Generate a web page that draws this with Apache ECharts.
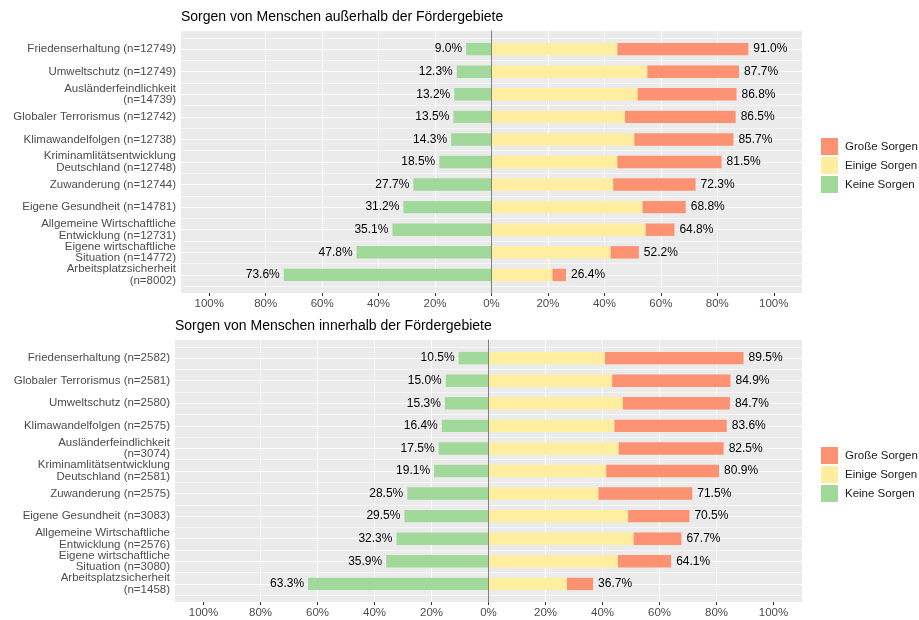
<!DOCTYPE html>
<html>
<head>
<meta charset="utf-8">
<script src="https://cdn.jsdelivr.net/npm/echarts@6/dist/echarts.min.js"></script>
<style>
  html, body { margin: 0; padding: 0; background: #fff; }
  #chart { width: 919px; height: 620px; }
</style>
</head>
<body>
<div id="chart"></div>
<script>
// top panel: people outside the funding areas (top to bottom)
const catsOut = [
  'Friedenserhaltung (n=12749)',
  'Umweltschutz (n=12749)',
  'Ausländerfeindlichkeit\n(n=14739)',
  'Globaler Terrorismus (n=12742)',
  'Klimawandelfolgen (n=12738)',
  'Kriminamlitätsentwicklung\nDeutschland (n=12748)',
  'Zuwanderung (n=12744)',
  'Eigene Gesundheit (n=14781)',
  'Allgemeine Wirtschaftliche\nEntwicklung (n=12731)',
  'Eigene wirtschaftliche\nSituation (n=14772)',
  'Arbeitsplatzsicherheit\n(n=8002)'
]
const keineOut = [9.0, 12.3, 13.2, 13.5, 14.3, 18.5, 27.7, 31.2, 35.1, 47.8, 73.6]
const einigeOut = [44.6, 55.2, 51.8, 47.3, 50.6, 44.6, 43.1, 53.5, 54.6, 42.2, 21.6]
const grosseOut = [46.4, 32.5, 35.0, 39.2, 35.1, 36.9, 29.2, 15.3, 10.2, 10.0, 4.8]

// bottom panel: people inside the funding areas
const catsIn = [
  'Friedenserhaltung (n=2582)',
  'Globaler Terrorismus (n=2581)',
  'Umweltschutz (n=2580)',
  'Klimawandelfolgen (n=2575)',
  'Ausländerfeindlichkeit\n(n=3074)',
  'Kriminamlitätsentwicklung\nDeutschland (n=2581)',
  'Zuwanderung (n=2575)',
  'Eigene Gesundheit (n=3083)',
  'Allgemeine Wirtschaftliche\nEntwicklung (n=2576)',
  'Eigene wirtschaftliche\nSituation (n=3080)',
  'Arbeitsplatzsicherheit\n(n=1458)'
]
const keineIn = [10.5, 15.0, 15.3, 16.4, 17.5, 19.1, 28.5, 29.5, 32.3, 35.9, 63.3]
const einigeIn = [40.9, 43.4, 47.1, 44.2, 45.7, 41.3, 38.6, 49.0, 50.9, 45.4, 27.5]
const grosseIn = [48.6, 41.5, 37.6, 39.4, 36.8, 39.6, 32.9, 21.5, 16.8, 18.7, 9.2]

const tickVals = [-100, -80, -60, -40, -20, 0, 20, 40, 60, 80, 100]
const legendNames = ['Große Sorgen', 'Einige Sorgen', 'Keine Sorgen']

const FONT = 'Liberation Sans'
const cGreen = '#A1D99B'
const cYellow = '#FFEDA0'
const cRed = '#FC9272'
const minorLine = 'rgba(255,255,255,0.55)'

const chart = echarts.init(document.getElementById('chart'))

// background grid x axis: lines every 10%, labels every 20%
const decoX = (gi) => ({
  type: 'value', gridIndex: gi, min: -110, max: 110, interval: 10,
  axisLine: { show: false, onZero: false },
  axisTick: { show: true, length: 3, customValues: tickVals, lineStyle: { color: '#333333' } },
  axisLabel: {
    customValues: tickVals, margin: 5, color: '#4D4D4D', fontSize: 11.5, fontFamily: FONT,
    formatter: (v) => (Math.round(v) % 20 === 0 ? Math.abs(Math.round(v)) + '%' : '')
  },
  splitLine: { show: true, showMinLine: false, showMaxLine: false, lineStyle: { color: [minorLine, '#ffffff'], width: 1 } }
})
const barX = (gi) => ({
  type: 'value', gridIndex: gi, min: -110, max: 110, show: false
})
// zero line sits on the y axis line of the background grid
const zeroY = (gi) => ({
  type: 'value', gridIndex: gi, min: 0, max: 1, z: 10,
  axisLine: { show: true, onZero: true, lineStyle: { color: '#808080', width: 1 } },
  axisTick: { show: false }, axisLabel: { show: false }, splitLine: { show: false }
})
const catY = (gi, cats) => ({
  type: 'category', gridIndex: gi, data: cats, inverse: true,
  axisLine: { show: false },
  axisTick: { show: true, length: 3, alignWithLabel: true, interval: 0, lineStyle: { color: '#333333' } },
  axisLabel: { interval: 0, margin: 5, color: '#4D4D4D', fontSize: 11.5, lineHeight: 11.5, fontFamily: FONT },
  splitLine: { show: false }
})
const lineY = (gi) => ({
  type: 'value', gridIndex: gi, min: 0, max: 11, interval: 0.5, position: 'right',
  axisLine: { show: false }, axisTick: { show: false }, axisLabel: { show: false },
  splitLine: { show: true, lineStyle: { color: [minorLine, '#ffffff'], width: 1 } }
})

const valLabel = { color: '#000', fontSize: 12, fontFamily: FONT }
const panelSeries = (xi, yi, keine, einige, grosse, stack) => [
  {
    name: 'Keine Sorgen', type: 'bar', stack: stack, xAxisIndex: xi, yAxisIndex: yi,
    barWidth: '55%', itemStyle: { color: cGreen },
    label: { show: true, position: 'left', distance: 4, ...valLabel, formatter: (p) => keine[p.dataIndex].toFixed(1) + '%' },
    data: keine.map((v) => -v)
  },
  {
    name: 'Einige Sorgen', type: 'bar', stack: stack, xAxisIndex: xi, yAxisIndex: yi,
    barWidth: '55%', itemStyle: { color: cYellow },
    data: einige
  },
  {
    name: 'Große Sorgen', type: 'bar', stack: stack, xAxisIndex: xi, yAxisIndex: yi,
    barWidth: '55%', itemStyle: { color: cRed },
    label: { show: true, position: 'right', distance: 5, ...valLabel, formatter: (p) => (einige[p.dataIndex] + grosse[p.dataIndex]).toFixed(1) + '%' },
    data: grosse
  }
]

const legendBox = (top) => ({
  data: legendNames, orient: 'vertical', left: 821, top: top, padding: 0,
  itemWidth: 17, itemHeight: 17, itemGap: 2, icon: 'rect', selectedMode: false,
  textStyle: { color: '#1a1a1a', fontSize: 11.5, fontFamily: FONT, padding: [0, 0, 0, 2] }
})

const option = {
  animation: false,
  textStyle: { fontFamily: FONT },
  title: [
    { text: 'Sorgen von Menschen außerhalb der Fördergebiete', left: 181, top: 10, padding: 0,
      textStyle: { fontSize: 14, fontWeight: 'normal', color: '#000', fontFamily: FONT } },
    { text: 'Sorgen von Menschen innerhalb der Fördergebiete', left: 175, top: 319, padding: 0,
      textStyle: { fontSize: 14, fontWeight: 'normal', color: '#000', fontFamily: FONT } }
  ],
  legend: [legendBox(138), legendBox(447)],
  grid: [
    { left: 181, top: 31, width: 621, height: 262, show: true, backgroundColor: '#EBEBEB', borderWidth: 0 },
    { left: 181, top: 37.8, width: 621, height: 248.4, show: false },
    { left: 175, top: 340, width: 627, height: 262, show: true, backgroundColor: '#EBEBEB', borderWidth: 0 },
    { left: 175, top: 346.8, width: 627, height: 248.4, show: false }
  ],
  xAxis: [decoX(0), barX(1), decoX(2), barX(3)],
  yAxis: [zeroY(0), catY(1, catsOut), lineY(1), zeroY(2), catY(3, catsIn), lineY(3)],
  series: [
    ...panelSeries(1, 1, keineOut, einigeOut, grosseOut, 'out'),
    ...panelSeries(3, 4, keineIn, einigeIn, grosseIn, 'in')
  ]
}
option && chart.setOption(option)
</script>
</body>
</html>
